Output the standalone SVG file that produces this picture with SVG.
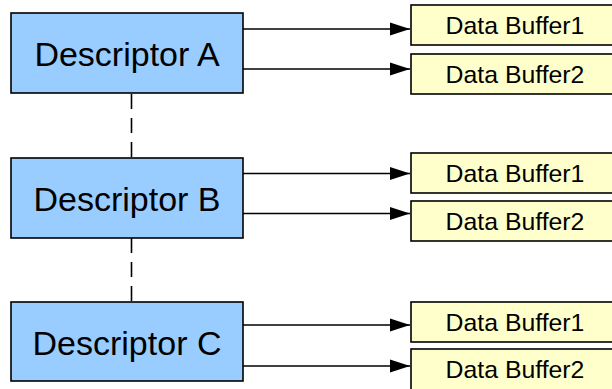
<svg xmlns="http://www.w3.org/2000/svg" width="612" height="389" viewBox="0 0 612 389">
<defs>
<style>
.desc{fill:#99ccff;stroke:#000;stroke-width:1.6}
.buf{fill:#ffffcc;stroke:#000;stroke-width:1.6}
.dt{font-family:"Liberation Sans",Arial,sans-serif;font-size:34px;fill:#000;text-anchor:middle}
.bt{font-family:"Liberation Sans",Arial,sans-serif;font-size:24.8px;fill:#000;text-anchor:middle}
.arr{stroke:#000;stroke-width:1.7;fill:none;marker-end:url(#ah)}
.dash{stroke:#000;stroke-width:1.6;fill:none;stroke-dasharray:15 9}
</style>
<marker id="ah" markerUnits="userSpaceOnUse" markerWidth="22" markerHeight="14" refX="20" refY="7" orient="auto">
<path d="M0,0.5 L20,7 L0,13.5 Z" fill="#000"/>
</marker>
</defs>
<rect width="612" height="389" fill="#fff"/>
<g id="connectors">
<line class="dash" x1="131.5" y1="94" x2="131.5" y2="157"/>
<line class="dash" x1="131.5" y1="238" x2="131.5" y2="302"/>
<line class="arr" x1="243" y1="29" x2="410" y2="29"/>
<line class="arr" x1="243" y1="69" x2="410" y2="69"/>
<line class="arr" x1="243" y1="173.5" x2="410" y2="173.5"/>
<line class="arr" x1="243" y1="213.5" x2="410" y2="213.5"/>
<line class="arr" x1="243" y1="325" x2="410" y2="325"/>
<line class="arr" x1="243" y1="366" x2="410" y2="366"/>
</g>
<g id="descA"><rect class="desc" x="11" y="13" width="232" height="80"/><text class="dt" x="127" y="66">Descriptor A</text></g>
<g id="descB"><rect class="desc" x="11" y="158" width="232" height="80"/><text class="dt" x="127" y="211">Descriptor B</text></g>
<g id="descC"><rect class="desc" x="11" y="302" width="232" height="79"/><text class="dt" x="127" y="355">Descriptor C</text></g>
<g id="bufA1"><rect class="buf" x="411" y="5" width="210" height="40"/><text class="bt" x="515" y="33.5">Data Buffer1</text></g>
<g id="bufA2"><rect class="buf" x="411" y="54" width="210" height="40"/><text class="bt" x="515" y="82.5">Data Buffer2</text></g>
<g id="bufB1"><rect class="buf" x="411" y="153" width="210" height="40"/><text class="bt" x="515" y="181.5">Data Buffer1</text></g>
<g id="bufB2"><rect class="buf" x="411" y="201" width="210" height="40"/><text class="bt" x="515" y="229.5">Data Buffer2</text></g>
<g id="bufC1"><rect class="buf" x="411" y="302" width="210" height="40"/><text class="bt" x="515" y="330.5">Data Buffer1</text></g>
<g id="bufC2"><rect class="buf" x="411" y="349" width="210" height="42"/><text class="bt" x="515" y="377.5">Data Buffer2</text></g>
</svg>
